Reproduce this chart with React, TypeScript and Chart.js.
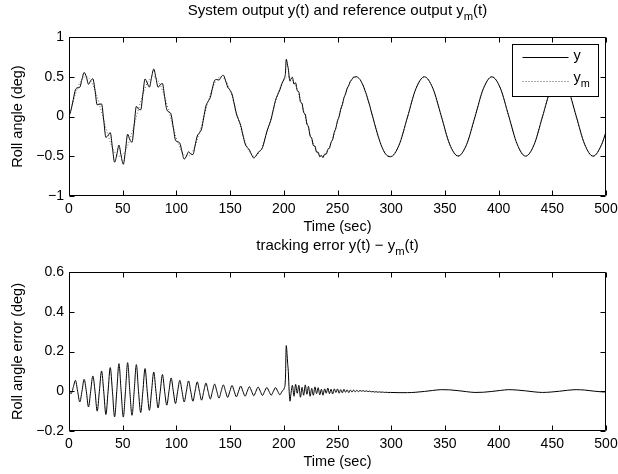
import React, { useEffect, useRef } from "react";
import { Chart, registerables } from "chart.js";

Chart.register(...registerables);

// ---------------- data ----------------
const timeSec = [
  0, 1.95, 3.98, 6.0, 8.03, 10.05, 12.08, 14.1, 16.13, 18.15,
  20.18, 22.2, 24.23, 26.25, 28.28, 30.3, 32.33, 34.35, 36.38, 38.4,
  40.43, 42.45, 44.48, 46.5, 48.53, 50.55, 52.58, 54.6, 56.63, 58.65,
  60.68, 62.7, 64.73, 66.75, 68.78, 70.8, 72.83, 74.85, 76.88, 78.9,
  80.93, 82.95, 84.98, 87.0, 89.03, 91.05, 93.08, 95.1, 97.13, 99.15,
  101.18, 103.2, 105.23, 107.25, 109.28, 111.3, 113.33, 115.35, 117.38, 119.4,
  121.43, 123.45, 125.48, 127.5, 129.53, 131.55, 133.58, 135.6, 137.63, 139.65,
  141.68, 143.7, 145.73, 147.75, 149.78, 151.8, 153.83, 155.85, 157.88, 159.9,
  161.93, 163.95, 165.98, 168.0, 170.03, 172.05, 174.08, 176.1, 178.13, 180.15,
  182.18, 184.2, 186.23, 188.25, 190.28, 192.3, 194.33, 196.35, 198.38, 200.4,
  201.5, 202.3, 203.0, 203.6, 204.2, 205.0, 205.8,
  206.5, 208, 209.5, 211, 212.5, 214, 215.5, 217, 218.5, 220,
  221.5, 223, 224.5, 226, 227.5, 229, 230.5, 232, 233.5, 235,
  236.5, 238, 239.5, 241, 242.5, 244, 245.5, 247, 248.5, 250,
  251.5, 253, 254.5, 256, 257.5, 259, 260.5, 262, 263.5, 265,
  266.5, 268, 269.5, 271, 272.5, 274, 275.5, 277, 278.5, 280,
  281.5, 283, 284.5, 286, 287.5, 289, 290.5, 292, 293.5, 295,
  296.5,
  299.4, 307.3, 315.2, 323, 330.9, 338.7, 346.6, 354.4, 362.3, 370.1,
  378, 385.8, 393.7, 401.6, 409.4, 417.3, 425.1, 433, 440.8, 448.7,
  456.5, 464.4, 472.2, 480.1, 488, 495.8, 500,
];

// reference output y_m(t) (deg)
const refOutput = [
  0, 0.097, 0.194, 0.282, 0.36, 0.422, 0.467, 0.494, 0.5, 0.485,
  0.451, 0.398, 0.329, 0.247, 0.154, 0.056, -0.046, -0.145, -0.238, -0.322,
  -0.392, -0.446, -0.483, -0.499, -0.495, -0.471, -0.427, -0.367, -0.291, -0.203,
  -0.107, -0.007, 0.094, 0.191, 0.28, 0.358, 0.421, 0.466, 0.493, 0.5,
  0.486, 0.452, 0.4, 0.331, 0.249, 0.157, 0.058, -0.043, -0.142, -0.235,
  -0.319, -0.39, -0.445, -0.482, -0.499, -0.496, -0.472, -0.429, -0.368, -0.293,
  -0.205, -0.11, -0.009, 0.091, 0.189, 0.278, 0.356, 0.419, 0.465, 0.493,
  0.5, 0.487, 0.453, 0.402, 0.333, 0.252, 0.16, 0.061, -0.04, -0.139,
  -0.233, -0.317, -0.389, -0.444, -0.481, -0.499, -0.496, -0.473, -0.43, -0.371,
  -0.295, -0.208, -0.112, -0.012, 0.089, 0.186, 0.275, 0.354, 0.418, 0.464,
  0.482, 0.491, 0.496, 0.499, 0.5, 0.498, 0.494,
  0.487, 0.464, 0.432, 0.389, 0.338, 0.279, 0.214, 0.144, 0.07, -0.004,
  -0.079, -0.152, -0.221, -0.286, -0.344, -0.394, -0.436, -0.468, -0.489, -0.499,
  -0.498, -0.486, -0.463, -0.429, -0.386, -0.335, -0.275, -0.21, -0.14, -0.066,
  0.009, 0.083, 0.156, 0.225, 0.289, 0.347, 0.397, 0.438, 0.469, 0.49,
  0.499, 0.498, 0.485, 0.461, 0.427, 0.384, 0.331, 0.272, 0.206, 0.136,
  0.062, -0.013, -0.087, -0.16, -0.229, -0.293, -0.35, -0.4, -0.44, -0.47,
  -0.49,
  -0.5, -0.354, 0, 0.354, 0.5, 0.354, 0, -0.354, -0.5, -0.354,
  0, 0.354, 0.5, 0.354, 0, -0.354, -0.5, -0.354, 0, 0.354,
  0.5, 0.354, 0, -0.354, -0.5, -0.354, -0.19,
];

// tracking error y(t) - y_m(t) (deg)
const trackError = [
  0, -0.012, 0.02, 0.055, 0, -0.054, 0, 0.06, 0, -0.079,
  0, 0.077, 0, -0.1, 0, 0.102, 0, -0.117, 0, 0.119,
  0, -0.129, 0, 0.139, 0, -0.13, 0, 0.144, 0, -0.121,
  0, 0.134, 0, -0.107, 0, 0.114, 0, -0.096, 0, 0.097,
  0, -0.084, 0, 0.084, 0, -0.07, 0, 0.067, 0, -0.062,
  0, 0.055, 0, -0.054, 0, 0.052, 0, -0.05, 0, 0.047,
  0, -0.045, 0, 0.041, 0, -0.039, 0, 0.036, 0, -0.035,
  0, 0.032, 0, -0.031, 0, 0.029, 0, -0.028, 0, 0.026,
  0, -0.025, 0, 0.023, 0, -0.023, 0, 0.021, 0, -0.021,
  0, 0.019, 0, -0.02, 0, 0.018, 0, -0.018, 0, 0.015,
  0.06, 0.23, 0.19, 0.14, 0.1, 0.0, -0.05,
  -0.02, 0.03, -0.025, 0.035, -0.01, 0.03, -0.03, 0.02, -0.02, 0.032,
  -0.015, 0.025, -0.025, 0.015, -0.02, 0.022, -0.012, 0.018, -0.018, 0.01,
  -0.02, 0.012, -0.01, 0.016, -0.012, 0.01, -0.014, 0.012, -0.006, 0.012,
  -0.01, 0.008, -0.008, 0.01, -0.005, 0.007, -0.007, 0.006, -0.004, 0.006,
  -0.003, 0.005, -0.002, 0.004, 0.0, 0.003, -0.001, 0.002, -0.002, 0.001,
  -0.003, -0.001, -0.004, -0.002, -0.005, -0.003, -0.005, -0.004, -0.006, -0.005,
  -0.006,
  -0.006, -0.007, -0.007, -0.005, -0.001, 0.004, 0.008, 0.007, 0.003, -0.002,
  -0.006, -0.005, -0.001, 0.004, 0.008, 0.006, 0.002, -0.003, -0.006, -0.004,
  0.0, 0.005, 0.008, 0.006, 0.001, -0.003, -0.004,
];

const xTickValues = [0, 50, 100, 150, 200, 250, 300, 350, 400, 450, 500];
const topYTickValues = [-1, -0.5, 0, 0.5, 1];
const bottomYTickValues = [-0.2, 0, 0.2, 0.4, 0.6];

// ---------------- drawing helpers ----------------
const FONT = "'Liberation Sans', Arial, Helvetica, sans-serif";
const TICK_SIZE = 14;
const LABEL_SIZE = 14.5;
const TITLE_SIZE = 15;

type Part = { t: string; sub?: boolean };

function fmt(v: number): string {
  const r = Math.round(v * 100) / 100;
  if (r < 0) return "\u2212" + String(Math.abs(r));
  return String(r);
}

function drawRich(
  ctx: CanvasRenderingContext2D,
  parts: Part[],
  cx: number,
  cy: number,
  size: number,
  align: "center" | "left" = "center",
  rotate = false
) {
  ctx.save();
  ctx.fillStyle = "#000";
  ctx.textBaseline = "middle";
  ctx.textAlign = "left";
  const subSize = size * 0.75;
  const widths = parts.map((p) => {
    ctx.font = `${p.sub ? subSize : size}px ${FONT}`;
    return ctx.measureText(p.t).width;
  });
  const total = widths.reduce((a, b) => a + b, 0);
  ctx.translate(cx, cy);
  if (rotate) ctx.rotate(-Math.PI / 2);
  let x = align === "center" ? -total / 2 : 0;
  parts.forEach((p, i) => {
    ctx.font = `${p.sub ? subSize : size}px ${FONT}`;
    ctx.fillText(p.t, x, p.sub ? size * 0.42 : 0);
    x += widths[i];
  });
  ctx.restore();
}

type PanelText = {
  title: Part[];
  yLabel: string;
  yTicks: number[];
  legend: boolean;
};

function makeFramePlugin(txt: PanelText) {
  return {
    id: "frame",
    afterDraw(chart: any) {
      const { ctx, chartArea: a, scales } = chart;
      const L = Math.round(a.left) + 0.5;
      const R = Math.round(a.right) - 0.5;
      const T = Math.round(a.top) + 0.5;
      const B = Math.round(a.bottom) - 0.5;
      ctx.save();
      ctx.strokeStyle = "#000";
      ctx.lineWidth = 1;

      if (txt.legend) {
        const lx0 = R - 93;
        const ly0 = T + 7;
        const lw = 86;
        const lh = 52;
        ctx.fillStyle = "#fff";
        ctx.fillRect(lx0, ly0, lw, lh);
        ctx.strokeRect(lx0, ly0, lw, lh);
        ctx.beginPath();
        ctx.moveTo(lx0 + 10, ly0 + 13);
        ctx.lineTo(lx0 + 56, ly0 + 13);
        ctx.stroke();
        ctx.save();
        ctx.strokeStyle = "#555";
        ctx.setLineDash([1, 2]);
        ctx.beginPath();
        ctx.moveTo(lx0 + 10, ly0 + 37);
        ctx.lineTo(lx0 + 56, ly0 + 37);
        ctx.stroke();
        ctx.restore();
        drawRich(ctx, [{ t: "y" }], lx0 + 61, ly0 + 11, LABEL_SIZE, "left");
        drawRich(ctx, [{ t: "y" }, { t: "m", sub: true }], lx0 + 61, ly0 + 33, LABEL_SIZE, "left");
      }

      ctx.beginPath();
      ctx.rect(L, T, R - L, B - T);
      xTickValues.forEach((v) => {
        const x = Math.round(scales.x.getPixelForValue(v)) + 0.5;
        ctx.moveTo(x, B);
        ctx.lineTo(x, B - 5);
        ctx.moveTo(x, T);
        ctx.lineTo(x, T + 5);
      });
      txt.yTicks.forEach((v) => {
        const y = Math.round(scales.y.getPixelForValue(v)) + 0.5;
        ctx.moveTo(L, y);
        ctx.lineTo(L + 5, y);
        ctx.moveTo(R, y);
        ctx.lineTo(R - 5, y);
      });
      ctx.stroke();
      ctx.restore();

      const cx = (a.left + a.right) / 2;
      drawRich(ctx, txt.title, cx, a.top - 26, TITLE_SIZE);
      drawRich(ctx, [{ t: "Time (sec)" }], cx, a.bottom + 31, LABEL_SIZE);
      drawRich(ctx, [{ t: txt.yLabel }], 18, (a.top + a.bottom) / 2, LABEL_SIZE, "center", true);
    },
  };
}

function makeScales(yMin: number, yMax: number, yTicks: number[], xHeight: number) {
  return {
    x: {
      type: "linear",
      min: 0,
      max: 500,
      afterBuildTicks: (s: any) => {
        s.ticks = xTickValues.map((v) => ({ value: v }));
      },
      afterFit: (s: any) => {
        s.height = xHeight;
        s.paddingLeft = 0;
        s.paddingRight = 0;
      },
      grid: { display: false, drawTicks: false },
      border: { display: false },
      ticks: {
        padding: 5,
        color: "#000",
        autoSkip: false,
        maxRotation: 0,
        font: { size: TICK_SIZE, family: FONT },
        callback: (v: any) => fmt(Number(v)),
      },
    },
    y: {
      type: "linear",
      min: yMin,
      max: yMax,
      afterBuildTicks: (s: any) => {
        s.ticks = yTicks.map((v) => ({ value: v }));
      },
      afterFit: (s: any) => {
        s.width = 69;
        s.paddingTop = 0;
        s.paddingBottom = 0;
      },
      grid: { display: false, drawTicks: false },
      border: { display: false },
      ticks: {
        padding: 5,
        color: "#000",
        autoSkip: false,
        font: { size: TICK_SIZE, family: FONT },
        callback: (v: any) => fmt(Number(v)),
      },
    },
  };
}

export default function App() {
  const topRef = useRef<HTMLCanvasElement | null>(null);
  const botRef = useRef<HTMLCanvasElement | null>(null);

  useEffect(() => {
    if (!topRef.current || !botRef.current) return;
    const sysPoints = timeSec.map((t, i) => ({ x: t, y: refOutput[i] + trackError[i] }));
    const refPoints = timeSec.map((t, i) => ({ x: t, y: refOutput[i] }));
    const errPoints = timeSec.map((t, i) => ({ x: t, y: trackError[i] }));

    const common = {
      responsive: false,
      maintainAspectRatio: false,
      animation: false,
      devicePixelRatio: 1,
      events: [],
      plugins: { legend: { display: false }, tooltip: { enabled: false }, title: { display: false } },
    };

    const top = new Chart(topRef.current, {
      type: "line",
      data: {
        datasets: [
          {
            label: "y",
            data: sysPoints,
            borderColor: "#000",
            borderWidth: 1,
            pointRadius: 0,
            cubicInterpolationMode: "monotone",
            fill: false,
          },
          {
            label: "y_m",
            data: refPoints,
            borderColor: "#666",
            borderWidth: 1,
            borderDash: [1, 2],
            pointRadius: 0,
            cubicInterpolationMode: "monotone",
            fill: false,
          },
        ],
      },
      options: {
        ...common,
        layout: { padding: { top: 37, right: 12, left: 0, bottom: 0 } },
        scales: makeScales(-1, 1, topYTickValues, 41),
      } as any,
      plugins: [
        makeFramePlugin({
          title: [
            { t: "System output y(t) and reference output y" },
            { t: "m", sub: true },
            { t: "(t)" },
          ],
          yLabel: "Roll angle (deg)",
          yTicks: topYTickValues,
          legend: true,
        }),
      ],
    } as any);

    const bottom = new Chart(botRef.current, {
      type: "line",
      data: {
        datasets: [
          {
            label: "error",
            data: errPoints,
            borderColor: "#000",
            borderWidth: 1,
            pointRadius: 0,
            cubicInterpolationMode: "monotone",
            fill: false,
          },
        ],
      },
      options: {
        ...common,
        layout: { padding: { top: 35, right: 12, left: 0, bottom: 0 } },
        scales: makeScales(-0.2, 0.6, bottomYTickValues, 43),
      } as any,
      plugins: [
        makeFramePlugin({
          title: [
            { t: "tracking error y(t) \u2212 y" },
            { t: "m", sub: true },
            { t: "(t)" },
          ],
          yLabel: "Roll angle error (deg)",
          yTicks: bottomYTickValues,
          legend: false,
        }),
      ],
    } as any);

    return () => {
      top.destroy();
      bottom.destroy();
    };
  }, []);

  return (
    <div style={{ position: "absolute", left: 0, top: 0, width: 618, height: 474, background: "#fff" }}>
      <canvas
        ref={topRef}
        width={618}
        height={237}
        style={{ position: "absolute", left: 0, top: 0, width: 618, height: 237, display: "block" }}
      />
      <canvas
        ref={botRef}
        width={618}
        height={237}
        style={{ position: "absolute", left: 0, top: 237, width: 618, height: 237, display: "block" }}
      />
    </div>
  );
}
